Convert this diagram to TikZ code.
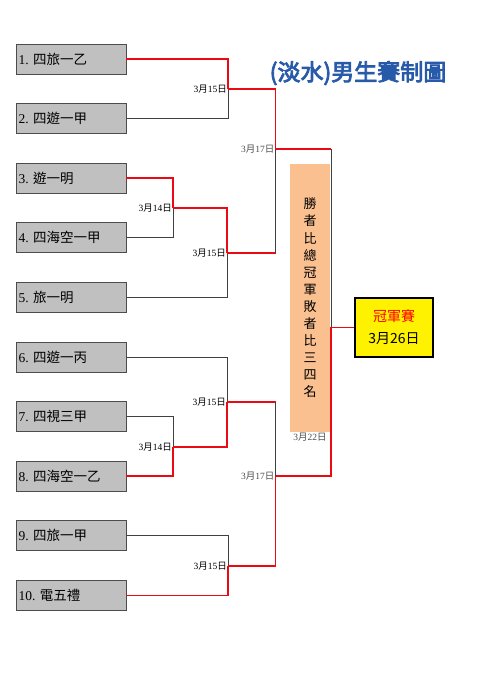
\documentclass[tikz,border=0pt]{standalone}
\usepackage{fontspec}
\setmainfont{Liberation Serif}
\newfontfamily\cjk{Noto Sans CJK TC}
\newfontfamily\cjktitle[FakeBold=3.5]{Noto Sans CJK TC}
\usetikzlibrary{positioning}
\definecolor{boxgray}{RGB}{192,192,192}
\definecolor{winred}{RGB}{235,10,20}
\definecolor{paleorange}{RGB}{250,192,144}
\definecolor{titleblue}{RGB}{40,90,170}
\newcommand{\matchdate}[2]{#1{\cjk 月}#2{\cjk 日}}
\tikzset{
    % Lines
    win line/.style={winred,line width=1.8pt},
    lose line/.style={black!75,line width=0.7pt},
    %
    % Nodes
    team box/.style={draw=black!70,line width=0.9pt,fill=boxgray,minimum width=110pt,minimum height=30pt,
        text width=105pt,align=left,inner sep=2.5pt,font=\fontsize{13.5}{15}\selectfont},
    date label/.style={anchor=east,inner sep=1pt,font=\fontsize{9.5}{10}\selectfont},
    final box/.style={draw=black,line width=1.2pt,fill=yellow,minimum width=78pt,minimum height=59pt,align=center,
        font=\cjk\fontsize{14}{16}\selectfont},
    note box/.style={fill=paleorange,minimum width=40pt,minimum height=268pt,inner sep=0pt,align=center,
        font=\cjk\fontsize{13}{17.1}\selectfont}
}

\begin{document}
\begin{tikzpicture}[x=1pt,y=-1pt]
    \useasboundingbox (0,0) rectangle (495,700);
    % teams
    \foreach \name [count=\i] in {四旅一乙,四遊一甲,遊一明,四海空一甲,旅一明,四遊一丙,四視三甲,四海空一乙,四旅一甲,電五禮}{
        \node[team box] (t\i) at (71,{59+59.6*(\i-1)}) {\i.\ {\cjk\name}};
    }
    % title
    \node[font=\cjktitle\fontsize{23}{26}\selectfont,text=titleblue] (title) at (358,73) {(淡水)男生賽制圖};
    % junctions
    \coordinate (m12) at (228,89);
    \coordinate (m34) at (173,208);
    \coordinate (m345) at (227,253);
    \coordinate (m78) at (173,447);
    \coordinate (m678) at (227,402);
    \coordinate (m910) at (228,566);
    \coordinate (s1) at (275.5,149);
    \coordinate (s2) at (275.5,476);
    \coordinate (f1) at (331,149);
    \coordinate (f2) at (331,476);
    % final
    \node[note box] (note) at (310,298) {勝\\者\\比\\總\\冠\\軍\\敗\\者\\比\\三\\四\\名};
    \node[final box] (champ) at (394,327.5) {\textcolor{red}{冠軍賽}\\[6pt] 3月26日};
    \coordinate (f0) at (f1 |- champ.west);
    % round one
    \draw[win line] (t1.east) -| (m12);
    \draw[lose line] (t2.east) -| (m12);
    \draw[win line] (t3.east) -| (m34);
    \draw[lose line] (t4.east) -| (m34);
    \draw[win line] (m34) -| (m345);
    \draw[lose line] (t5.east) -| (m345);
    \draw[lose line] (t6.east) -| (m678);
    \draw[lose line] (t7.east) -| (m78);
    \draw[win line] (t8.east) -| (m78);
    \draw[win line] (m78) -| (m678);
    \draw[lose line] (t9.east) -| (m910);
    \draw[win line] (t10.east) -| (m910);
    % semifinals
    \draw[win line] (m12) -| (s1);
    \draw[win line] (m345) -- (m345 -| s1);
    \draw[lose line] (m345 -| s1) -- (s1);
    \draw[win line] (m678) -- (m678 -| s2);
    \draw[lose line] (m678 -| s2) -- (s2);
    \draw[win line] (m910) -| (s2);
    % championship
    \draw[win line] (s1) -- (f1);
    \draw[lose line] (f1) -- (f0);
    \draw[win line] (s2) -- (f2) -- (f0) -- (champ.west);
    % dates
    \node[date label] (d12) at (m12) {\matchdate{3}{15}};
    \node[date label] (d34) at (m34) {\matchdate{3}{14}};
    \node[date label] (d345) at (m345) {\matchdate{3}{15}};
    \node[date label] (d78) at (m78) {\matchdate{3}{14}};
    \node[date label] (d678) at (m678) {\matchdate{3}{15}};
    \node[date label] (d910) at (m910) {\matchdate{3}{15}};
    \node[date label,text=black!70] (ds1) at (s1) {\matchdate{3}{17}};
    \node[date label,text=black!70] (ds2) at (s2) {\matchdate{3}{17}};
    \node[date label,anchor=north,text=black!70] (dnote) at (note.south) {\matchdate{3}{22}};
\end{tikzpicture}
\end{document}
